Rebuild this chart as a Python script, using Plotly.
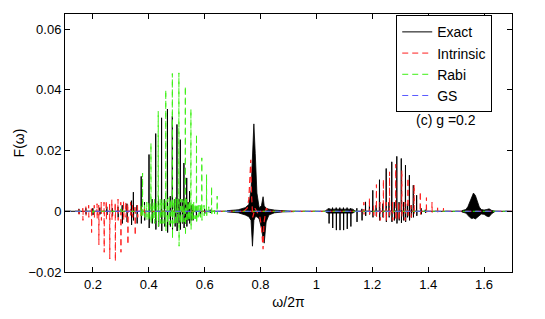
import plotly.graph_objects as go

# ---------------- data ----------------
x_ticks = [0.2, 0.4, 0.6, 0.8, 1.0, 1.2, 1.4, 1.6]
x_tick_text = ["0.2", "0.4", "0.6", "0.8", "1", "1.2", "1.4", "1.6"]
y_ticks = [-0.02, 0, 0.02, 0.04, 0.06]
y_tick_text = ["\u22120.02", "0", "0.02", "0.04", "0.06"]

# Exact: individual spikes (position, upper peak, lower dip)
exact_pos = [0.15, 0.175, 0.2, 0.225, 0.25, 0.27, 0.29, 0.305, 0.322, 0.338, 0.345, 0.358,
             0.373, 0.385, 0.401, 0.412, 0.425, 0.435, 0.446, 0.457, 0.467, 0.477, 0.4845,
             0.494, 0.501, 0.508, 0.513, 0.52, 0.526, 0.531, 0.536, 0.541, 0.546, 0.552,
             0.558, 0.57, 0.585, 0.6, 0.62,
             1.045, 1.058, 1.071, 1.084, 1.097, 1.110, 1.123, 1.145, 1.163,
             1.176, 1.190, 1.202, 1.214, 1.226, 1.238, 1.250, 1.260, 1.270, 1.279, 1.288,
             1.296, 1.304, 1.312, 1.319, 1.326, 1.333, 1.340, 1.347, 1.359, 1.375, 1.39]
exact_up = [0.0008, 0.001, 0.001, 0.0012, 0.0015, 0.001, 0.0015, 0.002, 0.0025, 0.0035, 0.0063, 0.002,
            0.0115, 0.003, 0.0187, 0.004, 0.0256, 0.005, 0.0308, 0.004, 0.0337, 0.005, 0.0313,
            0.004, 0.0286, 0.004, 0.0236, 0.004, 0.0159, 0.003, 0.011, 0.003, 0.0066, 0.002,
            0.002, 0.0015, 0.001, 0.0008, 0.0005,
            0.001, 0.0012, 0.0012, 0.0012, 0.0012, 0.0012, 0.001, 0.001, 0.0008,
            0.0031, 0.002, 0.0069, 0.002, 0.0104, 0.0025, 0.0141, 0.003, 0.0163, 0.003, 0.0181,
            0.003, 0.0174, 0.003, 0.0152, 0.0025, 0.0119, 0.002, 0.0086, 0.0053, 0.001, 0.0005]
exact_dn = [-0.0008, -0.001, -0.0012, -0.001, -0.0012, -0.0015, -0.002, -0.004, -0.0035, -0.0045, -0.003, -0.004,
            -0.004, -0.003, -0.0055, -0.004, -0.006, -0.005, -0.0065, -0.005, -0.007, -0.005, -0.0068,
            -0.005, -0.0065, -0.004, -0.006, -0.004, -0.0055, -0.004, -0.005, -0.003, -0.004, -0.003,
            -0.003, -0.002, -0.001, -0.0008, -0.0005,
            -0.004, -0.0055, -0.0062, -0.0062, -0.0062, -0.0058, -0.005, -0.0035, -0.003,
            -0.0015, -0.001, -0.002, -0.0015, -0.003, -0.002, -0.0035, -0.002, -0.0035, -0.003, -0.004,
            -0.003, -0.0038, -0.003, -0.0035, -0.002, -0.003, -0.002, -0.002, -0.0015, -0.001, -0.0005]

# Exact: dense oscillation bursts (upper / lower envelope)
burst1_w = [0.68, 0.72, 0.745, 0.758, 0.766, 0.771, 0.776, 0.781, 0.787, 0.795, 0.803, 0.809, 0.813, 0.82, 0.83, 0.85, 0.88, 0.92]
burst1_hi = [0.0002, 0.0005, 0.0012, 0.0022, 0.007, 0.019, 0.0288, 0.019, 0.006, 0.0012, 0.0018, 0.0048, 0.0018, 0.001, 0.0007, 0.0004, 0.0002, 0.0001]
burst1_lo = [-0.0002, -0.0005, -0.0012, -0.0018, -0.003, -0.0115, -0.003, -0.0018, -0.0018, -0.0025, -0.0055, -0.009, -0.0105, -0.0035, -0.0012, -0.0005, -0.0002, -0.0001]
burst2_w = [1.03, 1.04, 1.13, 1.14]
burst2_hi = [0.0, 0.0007, 0.0007, 0.0]
burst2_lo = [0.0, -0.0006, -0.0006, 0.0]
burst3_w = [1.52, 1.535, 1.542, 1.549, 1.556, 1.562, 1.569, 1.576, 1.583, 1.59, 1.6, 1.61, 1.618, 1.627, 1.64]
burst3_hi = [0.0002, 0.0006, 0.0015, 0.0032, 0.005, 0.006, 0.0052, 0.0033, 0.0014, 0.0006, 0.0004, 0.0006, 0.0008, 0.0003, 0.0]
burst3_lo = [-0.0002, -0.0006, -0.0012, -0.002, -0.0024, -0.0022, -0.0025, -0.0022, -0.0014, -0.0009, -0.001, -0.0016, -0.0018, -0.0008, 0.0]

# Intrinsic
intr_pos = [0.15, 0.164, 0.175, 0.185, 0.195, 0.205, 0.215, 0.221, 0.23, 0.24, 0.248, 0.26, 0.268,
            0.28, 0.29, 0.30, 0.31, 0.318, 0.325, 0.335, 0.342, 0.351, 0.36, 0.372, 0.385,
            1.17, 1.19, 1.205, 1.215, 1.228, 1.24, 1.25, 1.262, 1.273, 1.284, 1.295, 1.306, 1.317,
            1.328, 1.339, 1.35, 1.372, 1.394, 1.414, 1.434, 1.455]
intr_up = [0.001, 0.001, 0.0015, 0.002, 0.0015, 0.002, 0.0025, 0.002, 0.003, 0.003, 0.0035, 0.003, 0.0038,
           0.003, 0.004, 0.003, 0.0035, 0.003, 0.0025, 0.003, 0.002, 0.002, 0.002, 0.0015, 0.001,
           0.003, 0.0045, 0.002, 0.0088, 0.003, 0.0105, 0.003, 0.013, 0.003, 0.0155, 0.003, 0.0135, 0.003,
           0.011, 0.002, 0.0088, 0.0065, 0.0045, 0.003, 0.0018, 0.001]
intr_dn = [-0.001, -0.003, -0.0015, -0.002, -0.007, -0.002, -0.0025, -0.011, -0.003, -0.0135, -0.003, -0.0157, -0.003,
           -0.0165, -0.003, -0.0135, -0.003, -0.002, -0.011, -0.002, -0.002, -0.008, -0.002, -0.0015, -0.001,
           -0.001, -0.001, -0.002, -0.002, -0.003, -0.002, -0.003, -0.002, -0.003, -0.003, -0.003, -0.002, -0.003,
           -0.002, -0.002, -0.001, -0.001, -0.0008, -0.0005, -0.0003, -0.0002]
intr_burst_w = [0.74, 0.752, 0.758, 0.762, 0.765, 0.768, 0.772, 0.78, 0.79, 0.798, 0.803, 0.806, 0.809, 0.812, 0.82, 0.83]
intr_burst_f = [0.0, 0.001, 0.004, 0.012, 0.017, 0.005, -0.002, 0.001, -0.0005, -0.002, -0.005, -0.009, -0.0125, -0.004, 0.001, 0.0]

# Rabi
rabi_pos = [0.2, 0.3, 0.372, 0.378, 0.385, 0.393, 0.400, 0.408, 0.415, 0.421, 0.427, 0.434, 0.441, 0.447,
            0.454, 0.461, 0.467, 0.473, 0.479, 0.4845, 0.49, 0.496, 0.502, 0.508, 0.514, 0.52, 0.526,
            0.531, 0.536, 0.541, 0.546, 0.551, 0.556, 0.561, 0.566, 0.571, 0.576, 0.580, 0.585, 0.590,
            0.598, 0.607, 0.615, 0.625, 0.635, 0.645]
rabi_up = [0.0005, 0.0008, 0.002, 0.0126, 0.002, 0.003, 0.003, 0.0225, 0.003, 0.004, 0.003, 0.033, 0.004, 0.004,
           0.004, 0.040, 0.004, 0.0045, 0.004, 0.0454, 0.004, 0.0045, 0.004, 0.0456, 0.004, 0.004, 0.0035,
           0.0412, 0.004, 0.003, 0.0035, 0.0337, 0.003, 0.003, 0.0025, 0.0253, 0.0025, 0.002, 0.002, 0.0176,
           0.002, 0.0121, 0.0015, 0.0082, 0.001, 0.005]
rabi_dn = [-0.0005, -0.0008, -0.002, -0.002, -0.002, -0.003, -0.003, -0.004, -0.003, -0.004, -0.003, -0.005, -0.004, -0.004,
           -0.004, -0.0065, -0.004, -0.0045, -0.004, -0.009, -0.004, -0.0045, -0.004, -0.0115, -0.004, -0.004, -0.0035,
           -0.008, -0.0035, -0.003, -0.003, -0.006, -0.003, -0.0025, -0.0025, -0.004, -0.002, -0.002, -0.002, -0.003,
           -0.0015, -0.002, -0.001, -0.0015, -0.0008, -0.001]

# GS
gs_w = [0.1, 1.7]
gs_f = [0.0, 0.0]

# ---------------- helpers ----------------
def spike_path(pos, up, dn, w=0.0009):
    items = sorted(zip(pos, up, dn))
    xs, ys = [0.1], [0.0]
    for p, u, d in items:
        xs += [p - w, p - w / 3, p + w / 3, p + w]
        ys += [0.0, u, d, 0.0]
    xs.append(1.7)
    ys.append(0.0)
    return xs, ys

def envelope(w, hi, lo):
    return list(w) + list(w)[::-1], list(hi) + list(lo)[::-1]

BLACK = "black"
RED = "rgb(255,30,30)"
GREEN = "rgb(60,240,20)"
BLUE = "rgb(90,90,255)"
DASH = "6px,4px"

fig = go.Figure()

ex, ey = spike_path(exact_pos, exact_up, exact_dn)
fig.add_trace(go.Scatter(x=ex, y=ey, mode="lines", name="Exact", legendgroup="e",
                         line=dict(color=BLACK, width=1)))
for bw, bh, bl in [(burst1_w, burst1_hi, burst1_lo), (burst2_w, burst2_hi, burst2_lo),
                   (burst3_w, burst3_hi, burst3_lo)]:
    px, py = envelope(bw, bh, bl)
    fig.add_trace(go.Scatter(x=px, y=py, mode="lines", fill="toself", fillcolor=BLACK,
                             line=dict(color=BLACK, width=0.8), legendgroup="e", showlegend=False))

ix, iy = spike_path(intr_pos, intr_up, intr_dn)
fig.add_trace(go.Scatter(x=ix, y=iy, mode="lines", name="Intrinsic", legendgroup="i",
                         line=dict(color=RED, width=1, dash=DASH)))
fig.add_trace(go.Scatter(x=intr_burst_w, y=intr_burst_f, mode="lines", legendgroup="i", showlegend=False,
                         line=dict(color=RED, width=1.2, dash=DASH)))

rx, ry = spike_path(rabi_pos, rabi_up, rabi_dn)
fig.add_trace(go.Scatter(x=rx, y=ry, mode="lines", name="Rabi", legendgroup="r",
                         line=dict(color=GREEN, width=1, dash=DASH)))

fig.add_trace(go.Scatter(x=gs_w, y=gs_f, mode="lines", name="GS", legendgroup="g",
                         line=dict(color=BLUE, width=1, dash=DASH)))

fig.add_annotation(text="(c) g =0.2", xref="paper", yref="paper", x=0.8525, y=0.59,
                   xanchor="center", yanchor="middle",
                   showarrow=False, font=dict(size=14, color="black"))

axis_common = dict(ticks="inside", ticklen=5, tickcolor="black", showline=True, linecolor="black",
                   linewidth=1, mirror="ticks", showgrid=False, zeroline=False,
                   tickfont=dict(size=13, color="black"))
fig.update_xaxes(range=[0.1, 1.7], tickmode="array", tickvals=x_ticks, ticktext=x_tick_text,
                 title=dict(text="\u03c9/2\u03c0", font=dict(size=14), standoff=6), **axis_common)
fig.update_yaxes(range=[-0.02, 0.065], tickmode="array", tickvals=y_ticks, ticktext=y_tick_text,
                 title=dict(text="F(\u03c9)", font=dict(size=14), standoff=0), **axis_common)

# the page adds an 8px body margin, so the figure is 8px smaller and margins shifted
fig.update_layout(
    width=537, height=311,
    margin=dict(l=57, r=33, t=6, b=47, autoexpand=False),
    plot_bgcolor="white", paper_bgcolor="white",
    font=dict(family="Liberation Sans, Arial, sans-serif", size=13, color="black"),
    legend=dict(x=0.741, y=0.995, xanchor="left", yanchor="top", bordercolor="black", borderwidth=1,
                bgcolor="white", font=dict(size=14), tracegroupgap=0, itemwidth=30),
)

fig.write_html("out.html")
